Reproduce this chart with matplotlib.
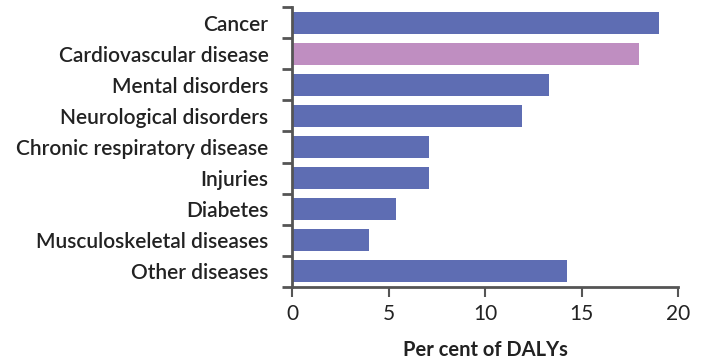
import matplotlib.pyplot as plt
import numpy as np

categories = ["Cancer", "Cardiovascular disease", "Mental disorders",
              "Neurological disorders", "Chronic respiratory disease",
              "Injuries", "Diabetes", "Musculoskeletal diseases", "Other diseases"]
values = [19.0, 18.0, 13.3, 11.9, 7.1, 7.1, 5.4, 4.0, 14.25]
highlight = "Cardiovascular disease"

blue = "#5e6db3"
pink = "#bf8ec1"
axis_col = "#555555"
text_col = "#222222"

plt.rcParams['font.family'] = ['Lato', 'DejaVu Sans']

fig = plt.figure(figsize=(7.04, 3.61), dpi=100)
ax = fig.add_axes([292/704, 1 - 287/361, (678 - 292)/704, 280/361])

y = np.arange(len(categories))
colors = [pink if c == highlight else blue for c in categories]
ax.barh(y, values, height=0.71, color=colors)

ax.set_xlim(0, 20)
ax.set_ylim(len(categories) - 0.5, -0.5)
ax.set_xticks([0, 5, 10, 15, 20])
ax.set_xticklabels(["0", "5", "10", "15", "20"], fontsize=15, color=text_col)

# category ticks sit on the boundaries between bars, labels centred on bars
ax.set_yticks(np.arange(-0.5, len(categories)), minor=False)
ax.set_yticklabels([])
ax.set_yticks(y, minor=True)
ax.set_yticklabels(categories, minor=True, fontsize=15, color=text_col, fontweight='semibold')
ax.tick_params(axis='y', which='minor', length=0, pad=17)
ax.tick_params(axis='y', which='major', length=7, width=2, color=axis_col)
ax.tick_params(axis='x', length=7, width=1.5, color=axis_col, pad=5)

for s in ['top', 'right']:
    ax.spines[s].set_visible(False)
for s in ['left', 'bottom']:
    ax.spines[s].set_color(axis_col)
    ax.spines[s].set_linewidth(2)

ax.set_xlabel("Per cent of DALYs", fontsize=14.5, fontweight='bold', color=text_col, labelpad=12)

fig.savefig("out.png", dpi=100)
